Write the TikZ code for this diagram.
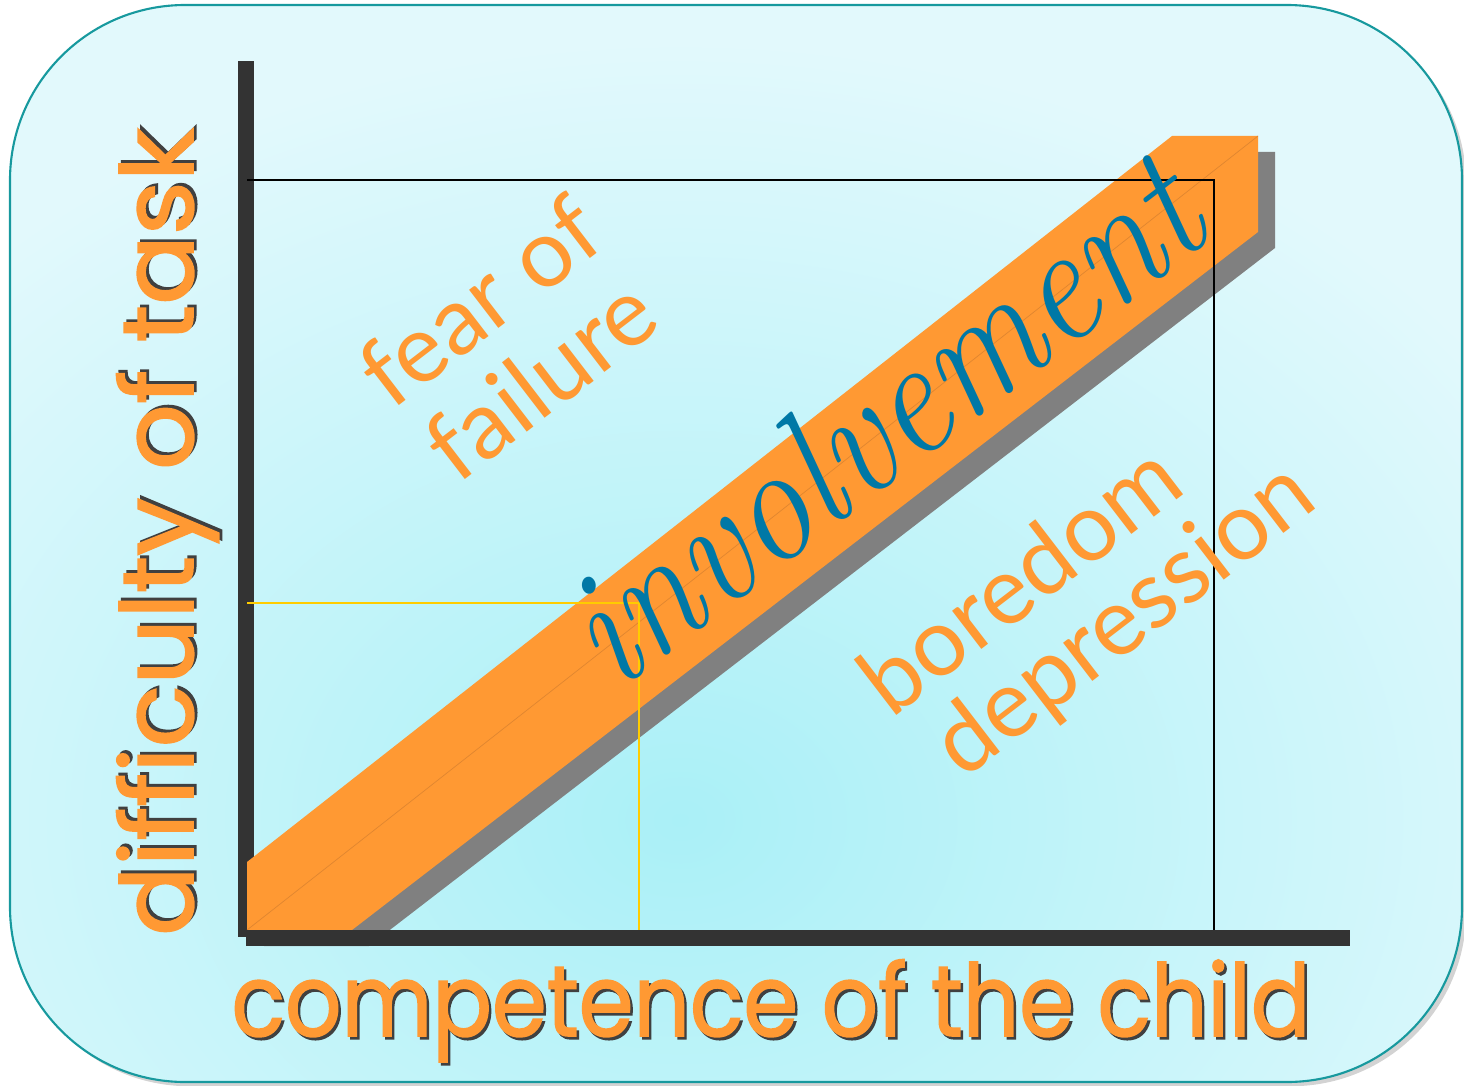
\documentclass[tikz,border=0pt]{standalone}
\usepackage{fontspec}
\usetikzlibrary{shadows}
\newfontfamily\handfont{Poppins}[FakeBold=1.6]
\newfontfamily\zonefont{Lato}

\definecolor{bandorange}{HTML}{FF9933}
\definecolor{bandcrease}{HTML}{E08630}
\definecolor{bandshade}{HTML}{808080}
\definecolor{axisgrey}{HTML}{333333}
\definecolor{rimteal}{HTML}{17999E}
\definecolor{inkblue}{HTML}{0078A6}
\definecolor{palecyan}{HTML}{E2F9FC}
\definecolor{deepcyan}{HTML}{AAF0F7}
\definecolor{guideyellow}{HTML}{FFCC00}

\newcommand\bandpath{(247,862) -- (1172,136) -- (1258,136) -- (1258,232) -- (352,930) -- (247,930) -- cycle}
\newcommand\panelpath{(10,5) rectangle (1462,1082)}
% orange lettering over a dark offset copy
\newcommand\shadetext[1]{\makebox[0pt][l]{\hspace{0.8pt}\raisebox{-0.8pt}{\color{black!75}#1}}#1}

\tikzset{
  axisbar/.style={fill=axisgrey},
  axislabel/.style={text=bandorange, font=\handfont\fontsize{28.5}{30}\selectfont, anchor=base},
  zonelabel/.style={text=bandorange, font=\zonefont\fontsize{27}{29}\selectfont, rotate=37.5, anchor=base},
}

\begin{document}
\begin{tikzpicture}[x=0.01cm,y=-0.01cm]
\useasboundingbox (0,0) rectangle (1464,1085);

% rounded panel with its glow
\fill[palecyan, rounded corners=1.75cm, drop shadow={shadow xshift=1.2pt, shadow yshift=-1.2pt, opacity=.35}] \panelpath;
\begin{scope}
  \clip[rounded corners=1.75cm] \panelpath;
  \shade[inner color=deepcyan, outer color=palecyan] (680,820) ellipse (1000 and 780);
\end{scope}
\draw[rimteal, line width=0.6pt, rounded corners=1.75cm] \panelpath;

% axes and the band
\fill[bandshade, shift={(17,16)}] \bandpath;
\fill[axisbar] (238,61) rectangle (254,937);
\fill[bandorange] \bandpath;
\draw[bandcrease, line width=0.2pt] (247,930) -- (1258,136);
\fill[axisbar] (246,930) rectangle (1350,946);

\coordinate (top) at (247,180);
\coordinate (corner) at (1214,930);
\draw[black, line width=0.5pt] (top) -| (corner);
\coordinate (mid) at (247,603);
\coordinate (midfoot) at (639,930);
\draw[guideyellow, line width=0.8pt] (mid) -| (midfoot);

% labels
\node[axislabel] (xlab) at (771,1036) {\scalebox{0.88}[1]{\shadetext{competence of the child}}};
\node[axislabel, rotate=90] (ylab) at (193,532) {\scalebox{1.03}[1]{\shadetext{difficulty of task}}};

\node[zonelabel] (fear) at (500,328) {fear of};
\node[zonelabel] (failure) at (561,406) {failure};
\node[zonelabel] (boredom) at (1040,605) {boredom};
\node[zonelabel] (depression) at (1142,643) {depression};

\node[text=inkblue, rotate=37.4, anchor=base, font=\itshape\fontsize{48}{50}\selectfont\addfontfeatures{FakeBold=1.8}] (involvement) at (915,465) {\scalebox{0.88}[1]{involvement}};
\end{tikzpicture}
\end{document}
